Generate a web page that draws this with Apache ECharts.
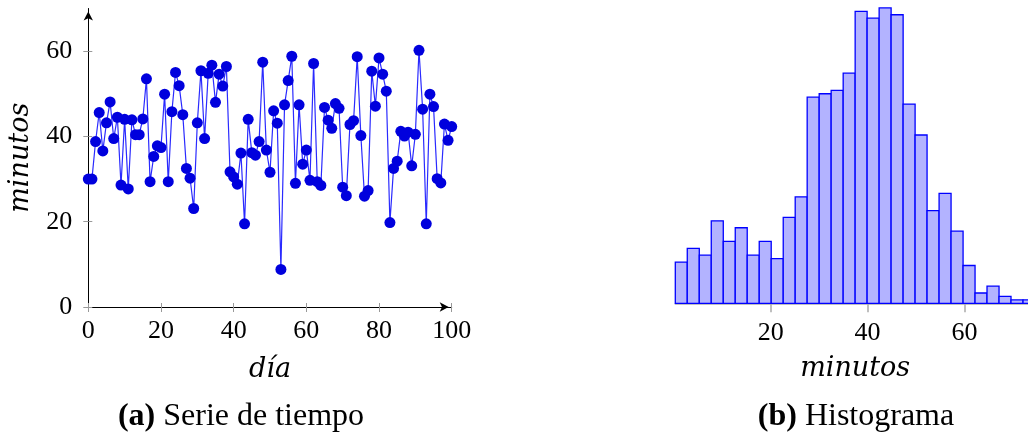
<!DOCTYPE html>
<html>
<head>
<meta charset="utf-8">
<script src="https://cdn.jsdelivr.net/npm/echarts@6/dist/echarts.min.js"></script>
<style>html,body{margin:0;padding:0;background:#fff;}#c{width:1028px;height:438px;}</style>
</head>
<body>
<div id="c"></div>
<script>
// Serie de tiempo: minutos por día (día 0..100)
const minutosPorDia = [
  30.0, 30.0, 38.8, 45.6, 36.6, 43.2, 48.1, 39.5, 44.5, 28.6,
  44.0, 27.7, 43.9, 40.4, 40.4, 44.1, 53.5, 29.4, 35.3, 37.8,
  37.4, 49.9, 29.4, 45.8, 55.0, 51.9, 45.1, 32.5, 30.2, 23.1,
  43.2, 55.4, 39.5, 54.8, 56.7, 48.0, 54.6, 51.8, 56.4, 31.7,
  30.5, 28.8, 36.1, 19.5, 44.0, 36.2, 35.6, 38.8, 57.4, 36.8,
  31.6, 46.0, 43.1, 8.8, 47.4, 53.1, 58.8, 29.0, 47.4, 33.5,
  36.8, 29.7, 57.1, 29.4, 28.5, 46.8, 43.8, 41.9, 47.7, 46.6,
  28.1, 26.1, 42.8, 43.7, 58.7, 40.2, 26.0, 27.3, 55.3, 47.1,
  58.4, 54.6, 50.6, 19.8, 32.5, 34.2, 41.2, 40.1, 41.0, 33.1,
  40.5, 60.2, 46.4, 19.5, 49.9, 47.0, 30.1, 29.1, 42.9, 39.1,
  42.3
];
const xTicksA = [0, 20, 40, 60, 80, 100];
const yTicksA = [0, 20, 40, 60];

// Histograma: bordes de clase (minutos) y frecuencias
const binEdges = [
  0.33, 2.80, 5.28, 7.75, 10.23, 12.70, 15.17, 17.65, 20.12, 22.60,
  25.07, 27.54, 30.02, 32.49, 34.97, 37.44, 39.91, 42.39, 44.86, 47.34,
  49.81, 52.28, 54.76, 57.23, 59.71, 62.18, 64.65, 67.13, 69.60, 72.08,
  74.55
];
const binCounts = [
  12, 16, 14, 24, 18, 22, 14, 18, 13, 25,
  31, 60, 61, 62, 67, 85, 83, 86, 84, 58,
  49, 27, 32, 21, 11, 3, 5, 2, 1, 1
];
const xTicksB = [20, 40, 60];

const serieData = minutosPorDia.map((v, i) => [i, v]);
const histData = binCounts.map((c, i) => [binEdges[i], binEdges[i + 1], c]);

const tickFont = { fontFamily: 'Liberation Serif', fontSize: 26, color: '#000' };
const nameFont = { fontFamily: 'DejaVu Serif', fontStyle: 'italic', fontSize: 27, color: '#000', verticalAlign: 'middle' };

const chart = echarts.init(document.getElementById('c'), null, { renderer: 'canvas' });
chart.setOption({
  animation: false,
  backgroundColor: '#fff',
  grid: [
    { left: 88.3, top: 8.5, width: 363.4, height: 298.5, outerBoundsMode: 'none', containLabel: false },
    { left: 675.3, top: 7.9, width: 359.7, height: 295.4, outerBoundsMode: 'none', containLabel: false }
  ],
  xAxis: [
    {
      type: 'value', gridIndex: 0, min: 0, max: 100, interval: 20,
      name: 'día', nameLocation: 'middle', nameGap: 63, nameTextStyle: nameFont,
      axisLine: { show: true, lineStyle: { color: '#000', width: 1 }, symbol: ['none', 'arrow'], symbolSize: [7, 9], symbolOffset: [0, -3] },
      axisTick: { show: true, inside: false, length: 5, lineStyle: { color: '#999', width: 1 }, customValues: xTicksA },
      axisLabel: Object.assign({ margin: 24.5, verticalAlign: 'middle', customValues: xTicksA }, tickFont),
      splitLine: { show: false }
    },
    {
      type: 'value', gridIndex: 0, min: 0, max: 100, position: 'bottom',
      axisLine: { show: false },
      axisTick: { show: true, inside: true, length: 4, lineStyle: { color: '#999', width: 1 }, customValues: xTicksA },
      axisLabel: { show: false },
      splitLine: { show: false }
    },
    {
      type: 'value', gridIndex: 1, min: binEdges[0], max: binEdges[binEdges.length - 1],
      name: 'minutos', nameLocation: 'middle', nameGap: 66, nameTextStyle: Object.assign({}, nameFont),
      axisLine: { show: true, lineStyle: { color: '#aaa', width: 1.5 } },
      axisTick: { show: true, inside: false, length: 9, lineStyle: { color: '#aaa', width: 1.5 }, customValues: xTicksB },
      axisLabel: Object.assign({ margin: 29.7, verticalAlign: 'middle', customValues: xTicksB }, tickFont),
      splitLine: { show: false }
    }
  ],
  yAxis: [
    {
      type: 'value', gridIndex: 0, min: 0, max: 70,
      name: 'minutos', nameLocation: 'middle', nameGap: 67, nameRotate: 90, nameTextStyle: nameFont,
      axisLine: { show: true, lineStyle: { color: '#000', width: 1 }, symbol: ['none', 'arrow'], symbolSize: [7, 9], symbolOffset: [0, -3] },
      axisTick: { show: true, inside: false, length: 5, lineStyle: { color: '#999', width: 1 }, customValues: yTicksA },
      axisLabel: Object.assign({ margin: 16, customValues: yTicksA }, tickFont),
      splitLine: { show: false }
    },
    {
      type: 'value', gridIndex: 0, min: 0, max: 70, position: 'left',
      axisLine: { show: false },
      axisTick: { show: true, inside: true, length: 4, lineStyle: { color: '#999', width: 1 }, customValues: yTicksA },
      axisLabel: { show: false },
      splitLine: { show: false }
    },
    {
      type: 'value', gridIndex: 1, min: 0, max: 86, show: false
    }
  ],
  series: [
    {
      type: 'line', xAxisIndex: 0, yAxisIndex: 0, data: serieData,
      symbol: 'circle', symbolSize: 11, showAllSymbol: true,
      itemStyle: { color: '#0000dd' },
      lineStyle: { color: '#2a2aff', width: 1.2 },
      z: 3
    },
    {
      type: 'custom', xAxisIndex: 2, yAxisIndex: 2, data: histData,
      encode: { x: [0, 1], y: 2 },
      renderItem: function (params, api) {
        const p0 = api.coord([api.value(0), api.value(2)]);
        const p1 = api.coord([api.value(1), 0]);
        return {
          type: 'rect',
          shape: { x: p0[0], y: p0[1], width: p1[0] - p0[0], height: p1[1] - p0[1] },
          style: { fill: '#b3b3ff', stroke: '#0000ff', lineWidth: 1.3 }
        };
      },
      z: 3
    }
  ],
  graphic: [
    {
      type: 'text', x: 241, y: 417,
      style: {
        text: '{b|(a)} Serie de tiempo', align: 'center', verticalAlign: 'middle',
        fontFamily: 'Liberation Serif', fontSize: 32, fill: '#000',
        rich: { b: { fontFamily: 'Liberation Serif', fontSize: 32, fontWeight: 'bold' } }
      }
    },
    {
      type: 'text', x: 856, y: 417,
      style: {
        text: '{b|(b)} Histograma', align: 'center', verticalAlign: 'middle',
        fontFamily: 'Liberation Serif', fontSize: 32, fill: '#000',
        rich: { b: { fontFamily: 'Liberation Serif', fontSize: 32, fontWeight: 'bold' } }
      }
    }
  ]
});
</script>
</body>
</html>
